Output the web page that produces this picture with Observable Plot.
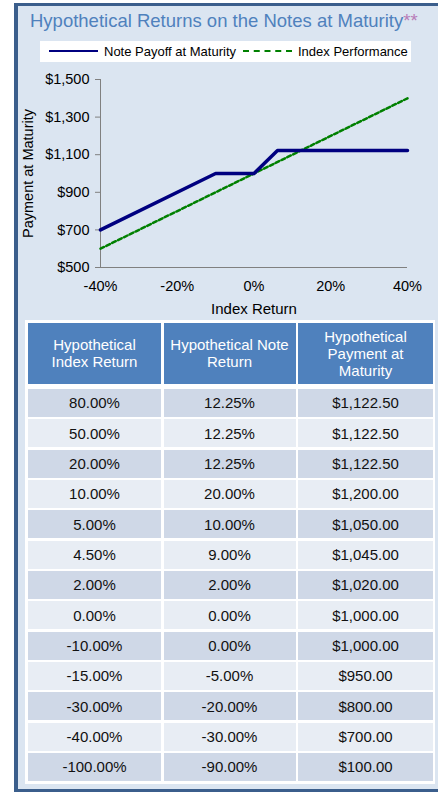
<!DOCTYPE html>
<html>
<head>
<meta charset="utf-8">
<script src="https://cdn.jsdelivr.net/npm/d3@7"></script>
<script src="https://cdn.jsdelivr.net/npm/@observablehq/plot@0.6"></script>
<style>
  html, body { margin: 0; padding: 0; background: #ffffff; }
  body { width: 438px; height: 794px; position: relative; overflow: hidden; font-family: "Liberation Sans", Arial, sans-serif; }
  #panel { position: absolute; left: 14px; top: 3px; width: 440px; height: 783px; background: #dbe5f1;
           border-left: 4px solid #3b5e8c; border-top: 3px solid #3b5e8c; border-bottom: 3px solid #3b5e8c; }
  #title { position: absolute; left: 30px; top: 10px; font-size: 18.5px; color: #4f81bd; white-space: nowrap; }
  #title .ast { color: #b87cb8; }
  #legend { position: absolute; left: 40px; top: 41px; width: 371px; height: 21px; background: #ffffff; font-size: 13px; color: #000; }
  #legend .sw { position: absolute; width: 49px; height: 0; }
  #legend .lb { position: absolute; top: 3px; white-space: nowrap; }
  #chart { position: absolute; left: 0; top: 66px; }
  #table { position: absolute; left: 25px; top: 320px; width: 410px; background: #ffffff; box-sizing: border-box;
           padding: 2.7px 2px 3px 3px; }
  .grid { display: grid; grid-template-columns: 133px 132px 135px; column-gap: 2.5px; }
  .head { grid-template-rows: 61px; margin-bottom: 5.3px; }
  .body { grid-template-rows: repeat(13, 27.95px); row-gap: 2.4px; }
  .hc { background: #4f81bd; color: #ffffff; font-size: 15px; line-height: 17px; display: flex; align-items: center; justify-content: center; text-align: center; }
  .dc { font-size: 15px; color: #111; display: flex; align-items: center; justify-content: center; }
  .dark { background: #cfd8e7; }
  .light { background: #e8edf4; }
</style>
</head>
<body>
<div id="panel"></div>
<div id="title">Hypothetical Returns on the Notes at Maturity<span class="ast">**</span></div>
<div id="legend"></div>
<div id="chart"></div>
<div id="table"></div>
<script>
// ---- Chart data ----
const seriesNames = ["Note Payoff at Maturity", "Index Performance"];
const seriesColors = ["#000080", "#008000"];
const noteX = [-40, -10, 0, 6.125, 40];
const noteY = [700, 1000, 1000, 1122.5, 1122.5];
const indexX = [-40, 40];
const indexY = [600, 1400];
const xTicks = [-40, -20, 0, 20, 40];
const yTicks = [500, 700, 900, 1100, 1300, 1500];

// ---- Table data ----
const tableHeaders = ["Hypothetical<br>Index Return", "Hypothetical Note<br>Return", "Hypothetical<br>Payment at<br>Maturity"];
const tableIndexReturn = ["80.00%", "50.00%", "20.00%", "10.00%", "5.00%", "4.50%", "2.00%", "0.00%", "-10.00%", "-15.00%", "-30.00%", "-40.00%", "-100.00%"];
const tableNoteReturn = ["12.25%", "12.25%", "12.25%", "20.00%", "10.00%", "9.00%", "2.00%", "0.00%", "0.00%", "-5.00%", "-20.00%", "-30.00%", "-90.00%"];
const tablePayment = ["$1,122.50", "$1,122.50", "$1,122.50", "$1,200.00", "$1,050.00", "$1,045.00", "$1,020.00", "$1,000.00", "$1,000.00", "$950.00", "$800.00", "$700.00", "$100.00"];

const noteData = noteX.map((x, i) => ({x, y: noteY[i]}));
const indexData = indexX.map((x, i) => ({x, y: indexY[i]}));

// Legend
const legend = document.getElementById("legend");
legend.innerHTML =
  `<div class="sw" style="left:9px;border-top:2.5px solid ${seriesColors[0]};top:9px"></div>` +
  `<div class="lb" style="left:64px">${seriesNames[0]}</div>` +
  `<div class="sw" style="left:203px;border-top:2.5px dashed ${seriesColors[1]};top:9px"></div>` +
  `<div class="lb" style="left:258px">${seriesNames[1]}</div>`;

const plot = Plot.plot({
  width: 438,
  height: 254,
  marginLeft: 100,
  marginRight: 31,
  marginTop: 13,
  marginBottom: 53,
  style: "background: transparent; font-family: 'Liberation Sans', Arial, sans-serif; font-size: 14.5px; color: #000; overflow: visible;",
  x: { domain: [-40, 40] },
  y: { domain: [500, 1500] },
  marks: [
    Plot.axisY({ ticks: yTicks, tickSize: 5, tickPadding: 6, fontSize: 14.5, tickFormat: d => "$" + d3.format(",")(d),
                 label: null, stroke: "#808080", fill: "#000" }),
    Plot.axisY({ ticks: [], label: "Payment at Maturity", labelAnchor: "center", labelArrow: "none", labelOffset: 78, fontSize: 14.5, fill: "#000" }),
    Plot.axisX({ ticks: xTicks, tickSize: 0, tickPadding: 13, fontSize: 14.5, tickFormat: d => d + "%", label: null, fill: "#000" }),
    Plot.axisX({ ticks: [], label: "Index Return", labelAnchor: "center", labelArrow: "none", labelOffset: 46, fontSize: 15, fill: "#000" }),
    Plot.ruleX([-40], { stroke: "#808080", strokeWidth: 1 }),
    Plot.ruleY([500], { stroke: "#808080", strokeWidth: 1 }),
    Plot.line(indexData, { x: "x", y: "y", stroke: seriesColors[1], strokeWidth: 2.5, strokeDasharray: "4,2.5" }),
    Plot.line(noteData, { x: "x", y: "y", stroke: seriesColors[0], strokeWidth: 3.5 })
  ]
});
document.getElementById("chart").appendChild(plot);

// Table
let html = '<div class="grid head">' + tableHeaders.map(h => `<div class="hc">${h}</div>`).join("") + '</div>';
html += '<div class="grid body">';
tableIndexReturn.forEach((v, i) => {
  const cls = i % 2 === 0 ? "dark" : "light";
  html += `<div class="dc ${cls}">${v}</div><div class="dc ${cls}">${tableNoteReturn[i]}</div><div class="dc ${cls}">${tablePayment[i]}</div>`;
});
html += '</div>';
document.getElementById("table").innerHTML = html;
</script>
</body>
</html>
